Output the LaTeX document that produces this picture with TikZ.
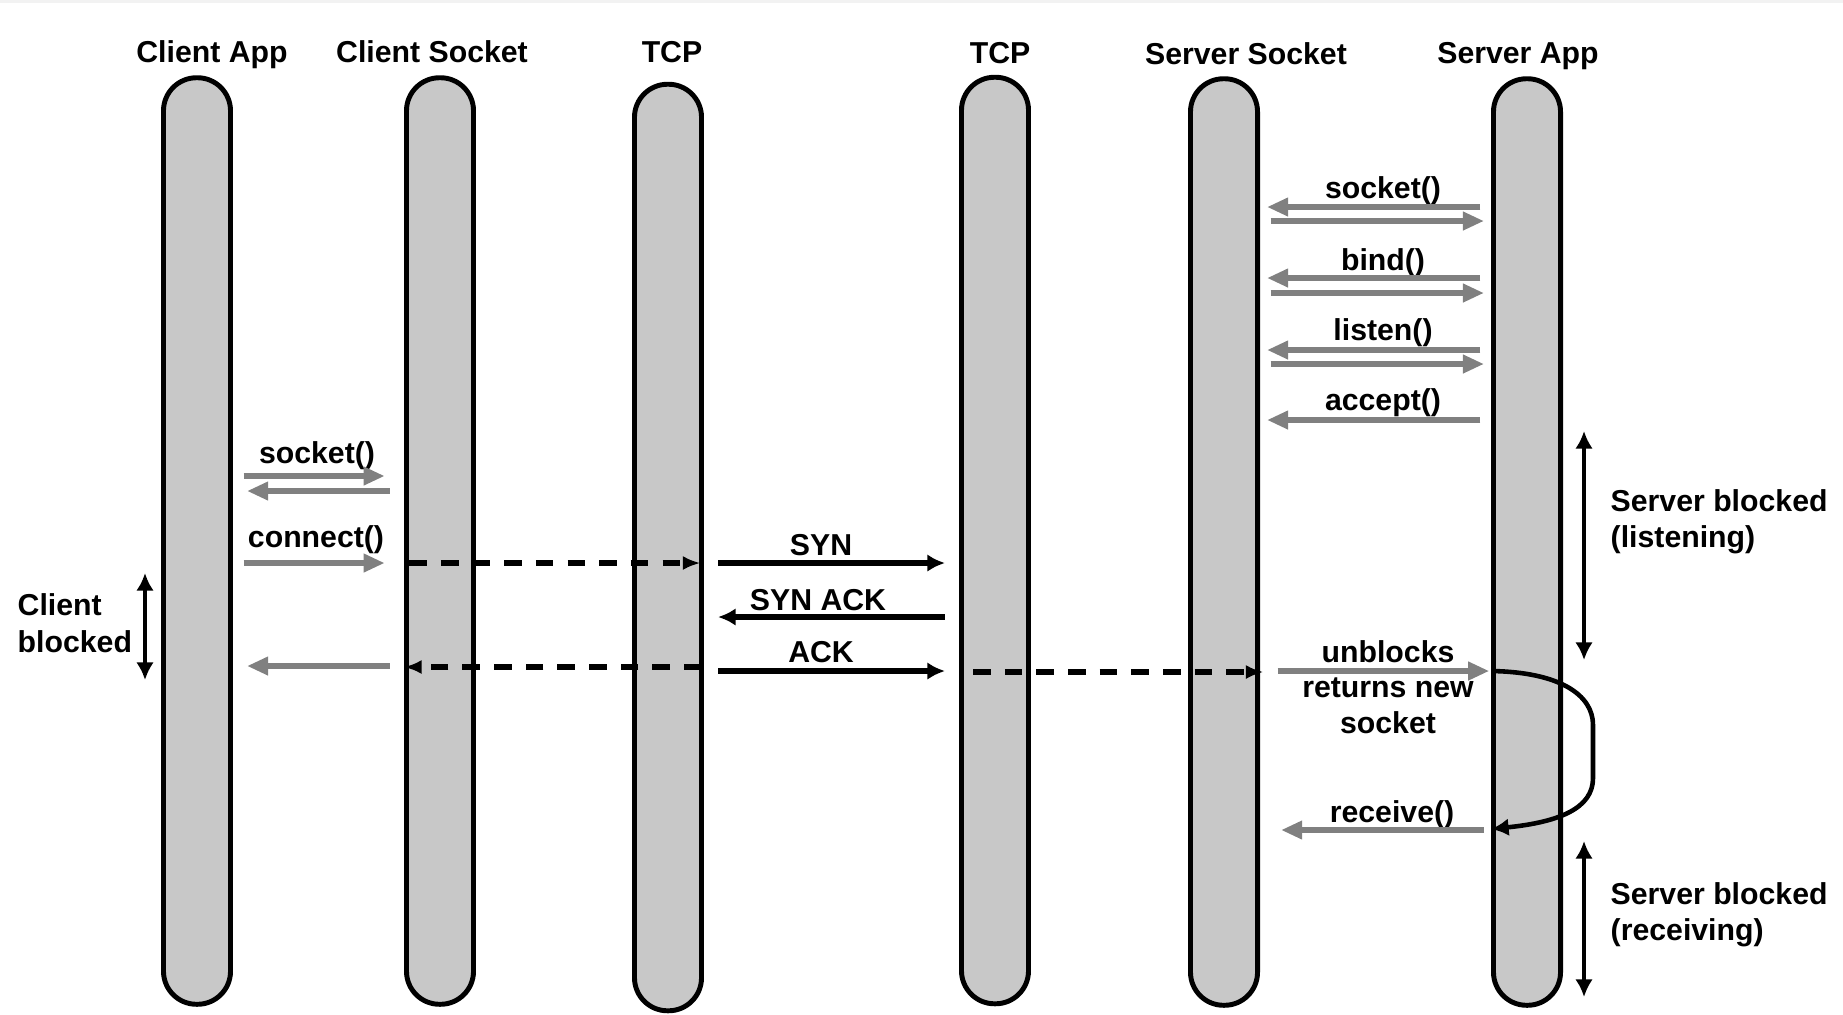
\documentclass[tikz,border=0pt]{standalone}
\usepackage{fontspec}
\setmainfont{Liberation Sans}
\usetikzlibrary{arrows.meta}
\definecolor{pillargray}{RGB}{200,200,200}
\definecolor{callgray}{RGB}{128,128,128}

\begin{document}
\begin{tikzpicture}[
	x=0.01cm, y=-0.01cm,
	lifeline/.style={draw, line width=1.4pt, fill=pillargray, rounded corners=0.33cm,
		minimum width=0.67cm, minimum height=9.26cm, inner sep=0pt},
	lbl/.style={anchor=base, inner sep=0pt, font=\fontsize{8.6}{10}\selectfont\bfseries},
	side/.style={lbl, align=left, anchor=base west},
	call/.style={draw=callgray, line width=1.6pt, -{Triangle[length=6pt,width=5pt]},
		shorten <=3pt, shorten >=2pt},
	pkt/.style={draw, line width=1.5pt, -{Latex[length=5pt,width=5pt]},
		shorten <=4pt, shorten >=4pt},
	flow/.style={draw, line width=1.6pt, dash pattern=on 5pt off 4pt,
		-{Latex[length=5pt,width=4pt]}},
	blocked/.style={draw, line width=1.3pt,
		{Latex[length=5pt,width=5pt]}-{Latex[length=5pt,width=5pt]}}]
\useasboundingbox (0,0) rectangle (1843,1014);
\fill[black!5] (0,0) rectangle (1843,3);

\node[lifeline] (capp) at (197,541) {};
\node[lifeline] (csock) at (440,541) {};
\node[lifeline] (tcpa) at (668,547.5) {};
\node[lifeline] (tcpb) at (995,540.5) {};
\node[lifeline] (ssock) at (1224,542) {};
\node[lifeline] (sapp) at (1527,542) {};

\node[lbl] (capptitle) at (212,62) {Client App};
\node[lbl] (csocktitle) at (432,62) {Client Socket};
\node[lbl] (tcpatitle) at (672,62) {TCP};
\node[lbl] (tcpbtitle) at (1000,63) {TCP};
\node[lbl] (ssocktitle) at (1246,64) {Server Socket};
\node[lbl] (sapptitle) at (1518,63) {Server App};

\node[lbl] (ssocketlbl) at (1383,198) {socket()};
\draw[call] (sapp.west |- 0,207) -- (ssock.east |- 0,207);
\draw[call] (ssock.east |- 0,221) -- (sapp.west |- 0,221);
\node[lbl] (bindlbl) at (1383,270) {bind()};
\draw[call] (sapp.west |- 0,278) -- (ssock.east |- 0,278);
\draw[call] (ssock.east |- 0,293) -- (sapp.west |- 0,293);
\node[lbl] (listenlbl) at (1383,340) {listen()};
\draw[call] (sapp.west |- 0,350) -- (ssock.east |- 0,350);
\draw[call] (ssock.east |- 0,364) -- (sapp.west |- 0,364);
\node[lbl] (acceptlbl) at (1383,410) {accept()};
\draw[call] (sapp.west |- 0,420) -- (ssock.east |- 0,420);

\node[lbl] (csocketlbl) at (317,463) {socket()};
\draw[call, shorten >=5.5pt] (capp.east |- 0,476) -- (csock.west |- 0,476);
\draw[call, shorten <=4pt, shorten >=4pt] (csock.west |- 0,491) -- (capp.east |- 0,491);
\node[lbl] (connectlbl) at (316,547) {connect()};
\draw[call, shorten >=5.5pt] (capp.east |- 0,563) -- (csock.west |- 0,563);
\draw[flow, shorten <=1.5pt, shorten >=1pt] (csock.west |- 0,563) -- (tcpa.east |- 0,563);

\node[lbl] (synlbl) at (821,555) {SYN};
\draw[pkt] (tcpa.east |- 0,563) -- (tcpb.west |- 0,563);
\node[lbl] (synacklbl) at (818,610) {SYN ACK};
\draw[pkt] (tcpb.west |- 0,617) -- (tcpa.east |- 0,617);
\node[lbl] (acklbl) at (821,662) {ACK};
\draw[pkt] (tcpa.east |- 0,671) -- (tcpb.west |- 0,671);

\draw[flow, shorten <=0.7pt] (tcpa.east |- 0,667) -- (csock.west |- 0,667);
\draw[call, shorten <=4pt, shorten >=4pt] (csock.west |- 0,666) -- (capp.east |- 0,666);
\draw[flow, shorten <=4pt, shorten >=-1pt] (tcpb.west |- 0,672) -- (ssock.east |- 0,672);

\node[lbl, align=center] (unblockslbl) at (1388,733) {unblocks\\returns new\\socket};
\draw[call, shorten <=5pt, shorten >=0.5pt] (ssock.east |- 0,671) -- (sapp.west |- 0,671);
\draw[line width=1.3pt, -{Latex[length=5pt,width=5pt]}] (sapp.west |- 0,671)
	.. controls (1560,672) and (1593,695) .. (1593,725) -- (1593,778)
	.. controls (1593,808) and (1560,822) .. (sapp.west |- 0,829);
\node[lbl] (receivelbl) at (1392,822) {receive()};
\draw[call, shorten <=2pt, shorten >=6pt] (sapp.west |- 0,830) -- (ssock.east |- 0,830);

\coordinate (cbtop) at (145,573);
\coordinate (cbbot) at (145,680);
\draw[blocked] (cbtop) -- (cbbot);
\node[side, font=\fontsize{8.6}{10.5}\selectfont\bfseries] (cblbl) at (17,652) {Client\\blocked};

\coordinate (sltop) at (1584,431);
\coordinate (slbot) at (1584,660);
\draw[blocked] (sltop) -- (slbot);
\node[side] (sllbl) at (1610,547) {Server blocked\\(listening)};

\coordinate (srtop) at (1584,841);
\coordinate (srbot) at (1584,997);
\draw[blocked] (srtop) -- (srbot);
\node[side] (srlbl) at (1610,940) {Server blocked\\(receiving)};
\end{tikzpicture}
\end{document}
